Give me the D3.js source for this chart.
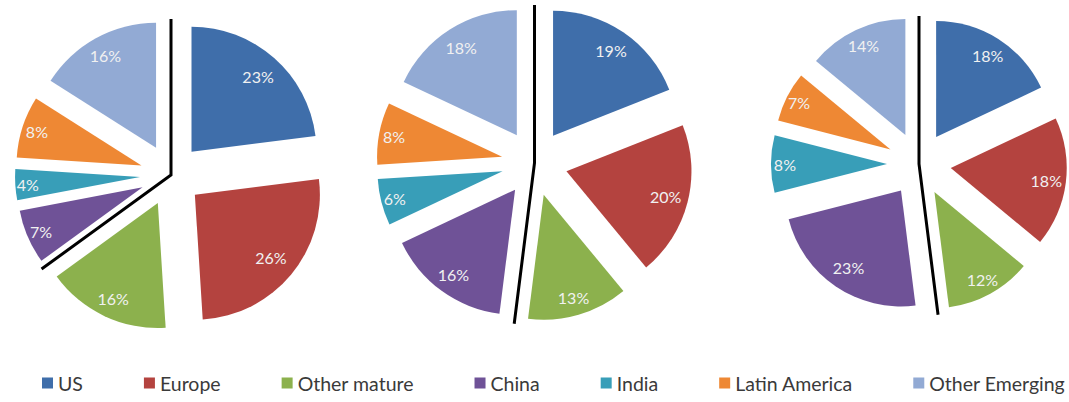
<!DOCTYPE html>
<html>
<head>
<meta charset="utf-8">
<script src="https://cdn.jsdelivr.net/npm/d3@7"></script>
<style>
  html, body { margin: 0; padding: 0; background: #ffffff; }
  svg { display: block; }
</style>
</head>
<body>
<svg id="chart" width="1069" height="402"></svg>
<script>
// Regional shares, three snapshots, listed in drawing order (clockwise from 12 o'clock)
const categories = ["US", "Europe", "Other mature", "China", "India", "Latin America", "Other Emerging"];
const sharesFirst  = [23, 26, 16, 7, 4, 8, 16];
const sharesSecond = [19, 20, 13, 16, 6, 8, 18];
const sharesThird  = [18, 18, 12, 23, 8, 7, 14];
// The first three categories are the mature economies; the rule separates them from the emerging ones
const matureCount = 3;

const palette = ["#3f6eaa", "#b4433f", "#8cb14d", "#6f5297", "#389eb8", "#ee8834", "#92aad4"];

// Pie placement: centre, radius, explosion distance
const pies = [
  { values: sharesFirst,  cx: 171,   cy: 175, r: 125, explode: 31 },
  { values: sharesSecond, cx: 534.5, cy: 163, r: 125, explode: 33 },
  { values: sharesThird,  cx: 919,   cy: 164, r: 116, explode: 32 }
];

const svg = d3.select("#chart");
const color = d3.scaleOrdinal().domain(categories).range(palette);

const pie = d3.pie().sort(null).value(d => d.value);

pies.forEach(p => {
  const data = categories.map((c, i) => ({ category: c, value: p.values[i] }));
  const arcs = pie(data);
  const arc = d3.arc().innerRadius(0).outerRadius(p.r);
  const g = svg.append("g").attr("transform", `translate(${p.cx},${p.cy})`);

  const slice = g.selectAll("g.slice")
    .data(arcs)
    .join("g")
    .attr("class", "slice")
    .attr("transform", d => {
      const mid = (d.startAngle + d.endAngle) / 2;
      return `translate(${p.explode * Math.sin(mid)},${-p.explode * Math.cos(mid)})`;
    });

  slice.append("path")
    .attr("d", arc)
    .attr("fill", d => color(d.data.category));

  slice.append("text")
    .attr("transform", d => {
      const mid = (d.startAngle + d.endAngle) / 2;
      const k = (0.92 - 0.005 * d.data.value) * p.r;
      return `translate(${k * Math.sin(mid)},${-k * Math.cos(mid)})`;
    })
    .attr("text-anchor", "middle")
    .attr("dominant-baseline", "central")
    .attr("font-family", "Lato, 'Open Sans', sans-serif")
    .attr("font-size", 16)
    .attr("fill", "#f1f1f1")
    .text(d => `${d.data.value}%`);

  // Rule dividing mature from emerging economies
  const total = d3.sum(p.values);
  const boundary = d3.sum(p.values.slice(0, matureCount)) / total * 2 * Math.PI;
  const len = p.r + p.explode;
  g.append("path")
    .attr("d", d3.line()([
      [0, -len],
      [0, 0],
      [(len + 4) * Math.sin(boundary), -(len + 4) * Math.cos(boundary)]
    ]))
    .attr("fill", "none")
    .attr("stroke", "#000")
    .attr("stroke-width", 3)
    .attr("stroke-linejoin", "miter");
});

// Legend along the bottom
const legend = svg.append("g").attr("transform", "translate(42,383)");
let x = 0;
categories.forEach(c => {
  const item = legend.append("g").attr("transform", `translate(${x},0)`);
  item.append("rect")
    .attr("x", 0).attr("y", -5.5)
    .attr("width", 11).attr("height", 11)
    .attr("fill", color(c));
  const t = item.append("text")
    .attr("x", 16).attr("y", 0)
    .attr("dominant-baseline", "central")
    .attr("font-family", "Lato, 'Open Sans', sans-serif")
    .attr("font-size", 19.5)
    .attr("fill", "#3a3a3a")
    .text(c);
  x += 16 + t.node().getComputedTextLength() + 61;
});
</script>
</body>
</html>
